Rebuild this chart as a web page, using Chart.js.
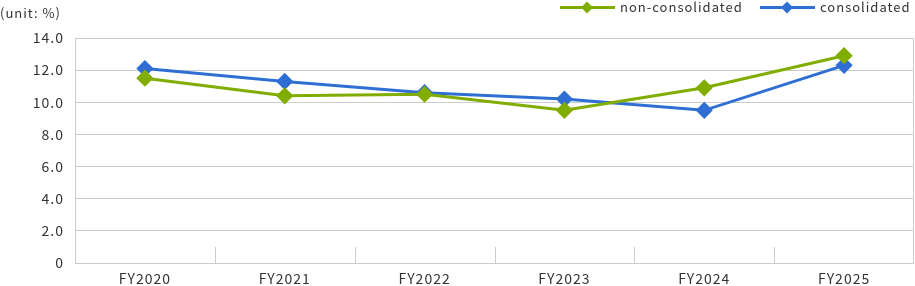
<!DOCTYPE html>
<html lang="en">
  <head>
    <meta charset="UTF-8" />
    <title>Ratio chart</title>
    <script src="https://cdn.jsdelivr.net/npm/chart.js"></script>
    <style>
      body { margin: 0; background: #fff; }
      #wrap { position: relative; width: 915px; height: 286px; }
    </style>
  </head>
  <body>
    <div id="wrap"><canvas id="ratioChart"></canvas></div>

    <script>
      const years = ["FY2020", "FY2021", "FY2022", "FY2023", "FY2024", "FY2025"];
      const nonConsolidated = [11.5, 10.4, 10.5, 9.5, 10.9, 12.9];
      const consolidated = [12.1, 11.3, 10.6, 10.2, 9.5, 12.3];
      const yTicks = [0, 2, 4, 6, 8, 10, 12, 14];
      const unitLabel = "(unit: %)";

      const green = "#80ad00";
      const blue = "#2f6fd4";
      const gridColor = "#cccccc";
      const textColor = "#333333";
      const fontFamily = "'Noto Sans CJK JP', 'Noto Sans', sans-serif";

      // letter spacing for all canvas text (canvas resets state on resize)
      const spacing = {
        id: "spacing",
        beforeUpdate(chart) { chart.ctx.letterSpacing = "1px"; },
        beforeDraw(chart) { chart.ctx.letterSpacing = "1px"; },
      };

      // unit text, legend, right border and short inner x ticks
      const extras = {
        id: "extras",
        afterDraw(chart) {
          const ctx = chart.ctx;
          const area = chart.chartArea;
          const x = chart.scales.x;
          ctx.save();
          ctx.strokeStyle = gridColor;
          ctx.lineWidth = 1;
          ctx.beginPath();
          ctx.moveTo(area.right - 0.5, area.top);
          ctx.lineTo(area.right - 0.5, area.bottom);
          for (let i = 0; i < years.length - 1; i++) {
            const px = Math.round(x.getPixelForValue(i + 0.5)) + 0.5;
            ctx.moveTo(px, area.bottom - 16);
            ctx.lineTo(px, area.bottom);
          }
          ctx.stroke();

          ctx.fillStyle = textColor;
          ctx.font = "13px " + fontFamily;
          ctx.textBaseline = "middle";
          ctx.textAlign = "left";
          ctx.fillText(unitLabel, 0, 13);

          // legend: line + diamond + label
          const items = chart.data.datasets.map((d) => ({ label: d.label, color: d.borderColor }));
          const starts = [560, 760];
          items.forEach((it, i) => {
            const lx = starts[i];
            const ly = 7.5;
            ctx.strokeStyle = it.color;
            ctx.lineWidth = 3;
            ctx.beginPath();
            ctx.moveTo(lx, ly);
            ctx.lineTo(lx + 55, ly);
            ctx.stroke();
            ctx.fillStyle = it.color;
            ctx.beginPath();
            ctx.moveTo(lx + 27, ly - 6);
            ctx.lineTo(lx + 33, ly);
            ctx.lineTo(lx + 27, ly + 6);
            ctx.lineTo(lx + 21, ly);
            ctx.closePath();
            ctx.fill();
            ctx.fillStyle = textColor;
            ctx.font = "13px " + fontFamily;
            ctx.fillText(it.label, lx + 60, ly);
          });
          ctx.restore();
        },
      };

      new Chart(document.getElementById("ratioChart"), {
        type: "line",
        data: {
          labels: years,
          datasets: [
            {
              label: "non-consolidated",
              data: nonConsolidated,
              borderColor: green,
              backgroundColor: green,
              borderWidth: 3,
              pointStyle: "rectRot",
              pointRadius: 6.5,
              pointHoverRadius: 6.5,
              tension: 0,
              clip: false,
            },
            {
              label: "consolidated",
              data: consolidated,
              borderColor: blue,
              backgroundColor: blue,
              borderWidth: 3,
              pointStyle: "rectRot",
              pointRadius: 6.5,
              pointHoverRadius: 6.5,
              tension: 0,
              clip: false,
            },
          ],
        },
        options: {
          responsive: true,
          maintainAspectRatio: false,
          animation: false,
          layout: { autoPadding: false, padding: { top: 38, right: 1, left: 0, bottom: 0 } },
          plugins: {
            legend: { display: false },
            tooltip: { enabled: false },
          },
          scales: {
            x: {
              offset: true,
              afterFit: (s) => {
                s.height = 23;
                s.paddingLeft = 0;
                s.paddingRight = 0;
              },
              grid: { display: false, drawTicks: false, tickLength: 0 },
              border: { display: false },
              ticks: {
                color: textColor,
                padding: 9,
                font: { size: 14, family: fontFamily, lineHeight: 1 },
              },
            },
            y: {
              min: 0,
              max: 14,
              afterFit: (s) => { s.width = 75; },
              afterBuildTicks: (s) => { s.ticks = yTicks.map((v) => ({ value: v })); },
              grid: { color: gridColor, drawTicks: false },
              border: { color: gridColor },
              ticks: {
                color: textColor,
                padding: 11,
                font: { size: 14, family: fontFamily },
                callback: (v) => (v === 0 ? "0" : v.toFixed(1)),
              },
            },
          },
        },
        plugins: [spacing, extras],
      });
    </script>
  </body>
</html>
